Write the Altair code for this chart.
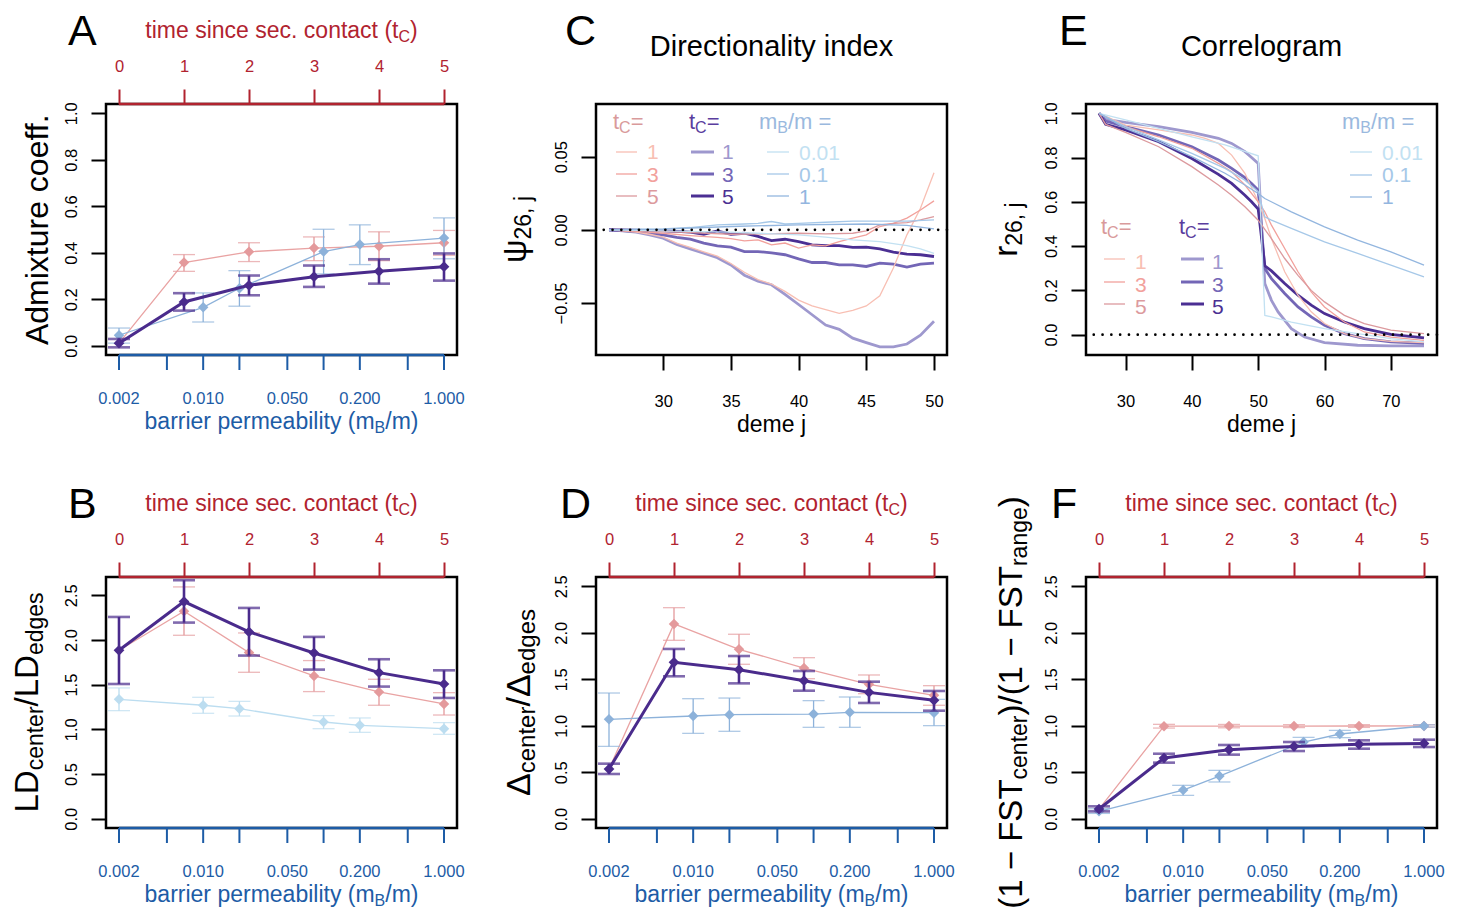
import math
import altair as alt
import pandas as pd

FONT = "Liberation Sans"
NA = float("nan")
NB = "\u00a0"

# ---------------- data ----------------
TIME = [0, 1, 2, 3, 4, 5]
PERM = [0.002, 0.01, 0.02, 0.1, 0.2, 1.0]
PERM_TICKS = [0.002, 0.005, 0.01, 0.02, 0.05, 0.1, 0.2, 0.5, 1.0]
PERM_LABELED = [0.002, 0.01, 0.05, 0.2, 1.0]

# Panel A: admixture coefficient
A_pur = [0.011, 0.188, 0.260, 0.297, 0.320, 0.340]
A_pur_lo = [-0.007, 0.151, 0.217, 0.253, 0.267, 0.280]
A_pur_hi = [0.029, 0.226, 0.302, 0.345, 0.372, 0.397]
A_pink = [0.011, 0.358, 0.404, 0.420, 0.428, 0.443]
A_pink_lo = [0.320, 0.362, 0.366, 0.366, 0.389]
A_pink_hi = [0.392, 0.443, 0.468, 0.490, 0.496]
A_blue = [0.045, 0.165, 0.247, 0.405, 0.435, 0.463]
A_blue_lo = [0.011, 0.102, 0.170, 0.309, 0.349, 0.374]
A_blue_hi = [0.076, 0.227, 0.323, 0.501, 0.520, 0.550]

# Panel B: LD ratio
B_pur = [1.884, 2.429, 2.090, 1.854, 1.634, 1.507]
B_pur_lo = [1.507, 2.194, 1.825, 1.668, 1.478, 1.351]
B_pur_hi = [2.257, 2.668, 2.358, 2.034, 1.784, 1.660]
B_pink = [1.884, 2.321, 1.858, 1.597, 1.418, 1.284]
B_pink_lo = [2.052, 1.638, 1.422, 1.269, 1.160]
B_pink_hi = [2.593, 2.078, 1.769, 1.560, 1.410]
B_blue = [1.336, 1.269, 1.231, 1.082, 1.045, 1.007]
B_blue_lo = [1.209, 1.179, 1.149, 1.007, 0.966, 0.944]
B_blue_hi = [1.463, 1.358, 1.313, 1.153, 1.127, 1.075]

# Panel D: Delta ratio
D_pur = [0.534, 1.682, 1.603, 1.485, 1.359, 1.273]
D_pur_lo = [0.481, 1.532, 1.456, 1.377, 1.245, 1.162]
D_pur_hi = [0.592, 1.826, 1.750, 1.589, 1.474, 1.374]
D_pink = [0.534, 2.095, 1.822, 1.621, 1.445, 1.327]
D_pink_lo = [1.919, 1.661, 1.506, 1.345, 1.220]
D_pink_hi = [2.270, 1.984, 1.732, 1.546, 1.431]
D_blue = [1.069, 1.105, 1.119, 1.126, 1.144, 1.141]
D_blue_lo = [0.778, 0.918, 0.940, 0.983, 0.983, 1.001]
D_blue_hi = [1.352, 1.291, 1.298, 1.270, 1.309, 1.284]

# Panel F: FST ratio
F_pur = [0.104, 0.653, 0.742, 0.778, 0.800, 0.810]
F_pur_lo = [0.079, 0.603, 0.689, 0.728, 0.753, 0.771]
F_pur_hi = [0.133, 0.699, 0.793, 0.825, 0.843, 0.850]
F_pink = [0.104, 0.995, 0.996, 0.996, 0.997, 0.998]
F_pink_lo = [0.975, 0.978, 0.980, 0.982, 0.985]
F_pink_hi = [1.015, 1.014, 1.012, 1.012, 1.011]
F_blue = [0.079, 0.308, 0.459, 0.825, 0.911, 0.997]
F_blue_lo = [0.057, 0.251, 0.395, 0.771, 0.872, 0.985]
F_blue_hi = [0.107, 0.359, 0.520, 0.875, 0.950, 1.010]

# Panel C: directionality index psi_{26,j}
C_demes = [26, 27, 28, 29, 30, 31, 32, 33, 34, 35, 36, 37, 38, 39, 40, 41, 42, 43, 44, 45, 46, 47, 48, 49, 50]
C_pur1 = [0, -0.0007, -0.0016, -0.0034, -0.0057, -0.010, -0.013, -0.016, -0.019, -0.024, -0.031, -0.035, -0.0375,
          -0.044, -0.051, -0.058, -0.065, -0.068, -0.074, -0.077, -0.080, -0.080, -0.078, -0.072, -0.0625]
C_pur3 = [0, -0.0005, -0.0011, -0.0023, -0.0034, -0.0052, -0.0064, -0.009, -0.011, -0.0118, -0.0148, -0.0148,
          -0.0157, -0.017, -0.0198, -0.0223, -0.0223, -0.0239, -0.0239, -0.025, -0.0227, -0.0234, -0.0255, -0.0234, -0.0227]
C_pur5 = [0, 0, -0.0002, -0.0005, -0.0007, -0.0011, -0.0016, -0.003, -0.0007, -0.003, -0.0023, -0.0045, -0.0073,
          -0.0064, -0.008, -0.0102, -0.0107, -0.0107, -0.012, -0.0118, -0.013, -0.0152, -0.0166, -0.017, -0.0182]
C_pink1 = [0, -0.0007, -0.0016, -0.003, -0.005, -0.009, -0.012, -0.015, -0.018, -0.023, -0.029, -0.034, -0.037,
           -0.042, -0.048, -0.052, -0.0545, -0.057, -0.055, -0.052, -0.045, -0.026, -0.0034, 0.0148, 0.039]
C_pink3_d = [26, 28, 30, 32, 34, 35, 36, 37, 38, 39, 40, 41, 42, 43, 44, 45, 46, 47, 48, 49, 50]
C_pink3 = [0, -0.001, -0.0023, -0.0039, -0.0052, -0.006, -0.0075, -0.0068, -0.0102, -0.009, -0.0125, -0.0102,
           -0.011, -0.008, -0.0057, -0.0034, 0.0023, 0.0045, 0.008, 0.0136, 0.0198]
C_pink5_d = [26, 30, 35, 40, 42, 44, 45, 46, 47, 48, 49, 50]
C_pink5 = [0, -0.001, -0.003, -0.0023, -0.0027, -0.0023, -0.0007, 0.0034, 0.0045, 0.005, 0.0068, 0.009]
C_b001_d = [26, 30, 35, 40, 42, 44, 46, 48, 49, 50]
C_b001 = [0, -0.0007, -0.0016, -0.0034, -0.005, -0.0068, -0.008, -0.0107, -0.013, -0.016]
C_b01_d = [26, 28, 30, 32, 34, 36, 37, 38, 39, 40, 42, 44, 46, 48, 50]
C_b01 = [0, 0.0005, 0.0007, 0.0016, 0.0034, 0.004, 0.0045, 0.0057, 0.004, 0.0045, 0.0052, 0.006, 0.006, 0.006, 0.0068]
C_b1_d = [26, 30, 35, 40, 45, 48, 50]
C_b1 = [0, 0.0005, 0.0023, 0.0034, 0.004, 0.003, 0.0007]

# Panel E: correlogram r_{26,j}
E_pur1_d = [26, 27, 30, 35, 40, 44, 46, 48, 49, 50, 51, 52, 53, 55, 57, 60, 65, 70, 75]
E_pur1 = [1.0, 0.973, 0.959, 0.94, 0.914, 0.887, 0.864, 0.827, 0.80, 0.774, 0.231, 0.155, 0.103, 0.027, -0.011,
          -0.036, -0.048, -0.051, -0.051]
E_pur35_d = [26, 27, 30, 35, 40, 44, 46, 48, 49, 50, 51, 52, 54, 56, 58, 60, 63, 66, 70, 75]
E_pur3 = [1.0, 0.965, 0.94, 0.902, 0.849, 0.789, 0.751, 0.709, 0.683, 0.653, 0.299, 0.253, 0.186, 0.125, 0.08,
          0.042, 0.0045, -0.018, -0.033, -0.039]
E_pur5 = [1.0, 0.95, 0.925, 0.872, 0.796, 0.724, 0.683, 0.63, 0.60, 0.567, 0.311, 0.288, 0.231, 0.178, 0.133,
          0.095, 0.057, 0.027, 0.0015, -0.015]
E_pink1_d = [26, 30, 35, 40, 42, 44, 46, 48, 50, 51, 52, 53, 54, 56, 58, 60, 63, 66, 70, 75]
E_pink1 = [1.0, 0.947, 0.925, 0.902, 0.887, 0.864, 0.811, 0.729, 0.60, 0.525, 0.434, 0.359, 0.284, 0.178, 0.103,
           0.05, 0.0045, -0.018, -0.030, -0.036]
E_pink3_d = [26, 30, 35, 40, 44, 46, 48, 50, 51, 52, 54, 56, 58, 60, 63, 66, 70, 75]
E_pink3 = [1.0, 0.94, 0.894, 0.842, 0.774, 0.736, 0.676, 0.60, 0.555, 0.495, 0.389, 0.284, 0.193, 0.125, 0.057,
           0.012, -0.011, -0.026]
E_pink5_d = [26, 27, 30, 35, 40, 44, 46, 48, 50, 52, 54, 56, 58, 60, 63, 66, 70, 75]
E_pink5 = [1.0, 0.95, 0.914, 0.849, 0.759, 0.676, 0.63, 0.578, 0.517, 0.434, 0.344, 0.268, 0.2, 0.148, 0.087,
           0.05, 0.02, 0.0045]
E_b001_d = [26, 30, 35, 40, 45, 50, 51, 52, 55, 60, 65, 70, 75]
E_b001 = [1.0, 0.97, 0.932, 0.894, 0.857, 0.808, 0.087, 0.08, 0.057, 0.027, 0.0045, -0.018, -0.033]
E_b01_d = [26, 30, 35, 40, 45, 48, 50, 51, 52, 55, 60, 65, 70, 75]
E_b01 = [1.0, 0.94, 0.88, 0.819, 0.751, 0.698, 0.646, 0.532, 0.517, 0.48, 0.419, 0.367, 0.314, 0.261]
E_b1_d = [26, 30, 35, 40, 45, 48, 50, 51, 55, 60, 65, 70, 75]
E_b1 = [1.0, 0.932, 0.872, 0.804, 0.729, 0.676, 0.638, 0.615, 0.555, 0.487, 0.427, 0.374, 0.314]

# ---------------- styling ----------------
W, H = 351, 251
RED = "#B1232F"
BLUE = "#1D5CA6"
PINK_PT = "#E49A9C"
PINK_LN = "#E9A3A3"
PURPLE = "#4A2B8C"
BLUE_PT = "#8DB2DA"
BLUE_LIGHT = "#BCDDF0"

P1, P3, P5 = "#F8BFB3", "#F2A19C", "#DC9A9E"
U1, U3, U5 = "#9E98CE", "#7366B6", "#4B2F93"
L001, L01, L1 = "#C2E1F2", "#A6C8E8", "#93B6DF"

ONE = pd.DataFrame({"k": [0]})

AW = {' ': 278, NB: 278, '(': 333, ')': 333, ',': 278, '-': 333, '.': 278, '/': 278, '=': 584, '\u2212': 584,
      'A': 667, 'B': 667, 'C': 722, 'D': 722, 'E': 667, 'F': 611, 'L': 556, 'S': 667, 'T': 611,
      'a': 556, 'b': 556, 'c': 500, 'd': 556, 'e': 556, 'f': 278, 'g': 556, 'h': 556, 'i': 222, 'j': 222,
      'k': 500, 'l': 222, 'm': 833, 'n': 556, 'o': 556, 'p': 556, 'q': 556, 'r': 333, 's': 500, 't': 278,
      'u': 556, 'v': 500, 'w': 722, 'x': 500, 'y': 500, 'z': 500, '\u03c8': 712, '\u0394': 668}


def tw(s, size):
    return sum(AW.get(ch, 556) for ch in s) * size / 1000.0


def txt(text, x, y, size, color="black", angle=0, align="left", baseline="alphabetic", dx=0, dy=0):
    kw = dict(text=text, font=FONT, fontSize=size, color=color, align=align, baseline=baseline, dx=dx, dy=dy)
    if angle:
        kw["angle"] = angle
    return alt.Chart(ONE).mark_text(**kw).encode(x=alt.value(x), y=alt.value(y))


def rich(segs, x, y, color="black", angle=0, anchor="middle"):
    widths = [tw(t, s) for t, s, d in segs]
    off = -sum(widths) / 2.0 if anchor == "middle" else 0.0
    out = []
    for (t, s, d), w in zip(segs, widths):
        out.append(txt(t, x, y, s, color=color, angle=angle, dx=off, dy=d))
        off += w
    return out


TIME_DOM = [TIME[0] - 0.04 * (TIME[-1] - TIME[0]), TIME[-1] + 0.04 * (TIME[-1] - TIME[0])]
# permeability (log) mapped onto the same horizontal coordinate as time (0.002 <-> 0, 1 <-> 5)
U_EXPR = "%g + %g * log(datum.p / %g) / log(%g)" % (
    TIME[0], TIME[-1] - TIME[0], PERM_TICKS[0], PERM_TICKS[-1] / PERM_TICKS[0])


def yscale(dom):
    return alt.Scale(domain=dom, nice=False, zero=False)


def left_axis(vals, fmt):
    return alt.Axis(orient="left", values=vals, format=fmt, tickSize=15, tickWidth=2, tickColor="black",
                    labelAngle=270, labelAlign="center", labelBaseline="bottom", labelPadding=12,
                    labelFontSize=16.5, labelColor="black", labelFont=FONT, domain=False, title=None, grid=False)


TOP_AXIS = alt.Axis(orient="top", values=TIME, format="d", tickSize=15, tickWidth=2, tickColor=RED,
                    labelColor=RED, labelFontSize=16.5, labelFont=FONT, labelPadding=15, domain=False,
                    title=None, grid=False, labelFlush=False, labelOverlap=False)


def std_panel(letter, letter_dx, pur, pur_lo, pur_hi, pink, pink_lo, pink_hi, blue, blue_lo, blue_hi,
              blue_col, ydom, yticks, ylab_segs, ylab_x):
    YA = left_axis(yticks, ".1f")

    def X(f="t"):
        return alt.X(f"{f}:Q", scale=alt.Scale(domain=TIME_DOM, nice=False, zero=False), axis=TOP_AXIS)

    def Y(f):
        return alt.Y(f"{f}:Q", scale=yscale(ydom), axis=YA)

    def series(df, color, lw, ew, size, line_color=None, marker_filter=None):
        base = alt.Chart(df)
        if "p" in df.columns:
            base = base.transform_calculate(t=U_EXPR)
        out = [base.mark_line(color=line_color or color, strokeWidth=lw).encode(x=X(), y=Y("v"))]
        mb = base.transform_filter(marker_filter) if marker_filter else base
        out.append(mb.mark_rule(color=color, strokeWidth=ew).encode(x=X(), y=Y("lo"), y2="hi:Q"))
        for f in ("lo", "hi"):
            out.append(mb.mark_tick(color=color, orient="horizontal", size=22, thickness=ew).encode(
                x=X(), y=Y(f)))
        out.append(mb.mark_point(shape="diamond", filled=True, size=size, color=color, opacity=1).encode(
            x=X(), y=Y("v")))
        return out

    dpur = pd.DataFrame({"t": TIME, "v": pur, "lo": pur_lo, "hi": pur_hi})
    dpink = pd.DataFrame({"t": TIME, "v": pink, "lo": [NA] + pink_lo, "hi": [NA] + pink_hi})
    dblue = pd.DataFrame({"p": PERM, "v": blue, "lo": blue_lo, "hi": blue_hi})
    layers = []
    layers += series(dpink, PINK_PT, 1.3, 1.3, 110, line_color=PINK_LN, marker_filter="datum.t > 0")
    layers += series(dblue, blue_col, 1.3, 1.3, 110)
    layers += series(dpur, PURPLE, 3, 2.6, 115)
    # top (red) axis line over the tC range
    layers.append(alt.Chart(pd.DataFrame({"a": [TIME[0]], "b": [TIME[-1]]})).mark_rule(
        color=RED, strokeWidth=2.5).encode(x=X("a"), x2="b:Q", y=alt.value(0)))
    # bottom (blue) permeability axis, drawn from the tick values
    ticks = alt.Chart(pd.DataFrame({"p": PERM_TICKS})).transform_calculate(t=U_EXPR)
    layers.append(ticks.transform_aggregate(a="min(t)", b="max(t)").mark_rule(
        color=BLUE, strokeWidth=2.5).encode(x=X("a"), x2="b:Q", y=alt.value(H)))
    layers.append(ticks.mark_rule(color=BLUE, strokeWidth=2).encode(
        x=X(), y=alt.value(H), y2=alt.value(H + 15)))
    labs = alt.Chart(pd.DataFrame({"p": PERM_LABELED})).transform_calculate(
        t=U_EXPR, lab="format(datum.p, '.3f')")
    layers.append(labs.mark_text(font=FONT, fontSize=16.5, color=BLUE, baseline="top").encode(
        x=X(), y=alt.value(H + 36), text="lab:N"))
    layers += rich([("time since sec. contact (t", 23, 0), ("C", 16, 4), (")", 23, 0)], W / 2, -66, color=RED)
    layers += rich([("barrier permeability (m", 23, 0), ("B", 16, 4), ("/m)", 23, 0)], W / 2, H + 74,
                   color=BLUE)
    layers += rich(ylab_segs, ylab_x, H / 2, angle=270)
    layers.append(txt(letter, letter_dx, -59, 43))
    return alt.layer(*layers).properties(width=W, height=H)


def line_panel(letter, letter_dx, title, series_list, xdom, xticks, ydom, yticks, yfmt, ylab_segs, ylab_x,
               legend_layers):
    XA = alt.Axis(orient="bottom", values=xticks, format="d", tickSize=15, tickWidth=2, tickColor="black",
                  labelColor="black", labelFontSize=16.5, labelFont=FONT, labelPadding=23, domain=False,
                  title=None, grid=False, labelFlush=False, labelOverlap=False)
    YA = left_axis(yticks, yfmt)
    xs = alt.Scale(domain=xdom, nice=False, zero=False)
    layers = []
    for demes, vals, color, lw in series_list:
        df = pd.DataFrame({"d": demes, "v": vals})
        layers.append(alt.Chart(df).mark_line(color=color, strokeWidth=lw).encode(
            x=alt.X("d:Q", scale=xs, axis=XA),
            y=alt.Y("v:Q", scale=yscale(ydom), axis=YA)))
    layers.append(alt.Chart(pd.DataFrame({"v": [0]})).mark_rule(
        color="black", strokeWidth=2.6, strokeDash=[0.1, 8.7], strokeCap="round").encode(
        y=alt.Y("v:Q", scale=yscale(ydom), axis=YA)))
    layers += legend_layers
    layers.append(txt(title, W / 2, -48, 29, align="center"))
    layers.append(txt("deme j", W / 2, H + 77, 23, align="center"))
    layers += rich(ylab_segs, ylab_x, H / 2, angle=270)
    layers.append(txt(letter, letter_dx, -59, 43))
    return alt.layer(*layers).properties(width=W, height=H)


def leg_rule(x0, x1, y, color, lw):
    return alt.Chart(ONE).mark_rule(color=color, strokeWidth=lw).encode(
        x=alt.value(x0), x2=alt.value(x1), y=alt.value(y))


def tc_legend(x_pink, x_pur, y_head, y_lines, y_text):
    out = []
    out += rich([("t", 22, 0), ("C", 16, 4), (NB + "=", 22, 0)], x_pink, y_head, color="#D99A9B", anchor="left")
    out += rich([("t", 22, 0), ("C", 16, 4), (NB + "=", 22, 0)], x_pur, y_head, color="#5A3D9E", anchor="left")
    for lab, cp, cu, yl, yt in zip(["1", "3", "5"], [P1, P3, P5], [U1, U3, U5], y_lines, y_text):
        out.append(leg_rule(x_pink + 3, x_pink + 24, yl, cp, 1.3))
        out.append(txt(lab, x_pink + 34, yt, 21, color=cp))
        out.append(leg_rule(x_pur + 2, x_pur + 25, yl, cu, 3))
        out.append(txt(lab, x_pur + 33, yt, 21, color=cu))
    return out


def mb_legend(x, y_head, y_lines, y_text, line_dx, text_dx):
    out = rich([("m", 22, 0), ("B", 16, 4), ("/m" + NB + "=", 22, 0)], x, y_head, color="#9AB9DE", anchor="left")
    for lab, c, yl, yt in zip(["0.01", "0.1", "1"], [L001, L01, L1], y_lines, y_text):
        out.append(leg_rule(x + line_dx, x + line_dx + 22, yl, c, 1.3))
        out.append(txt(lab, x + text_dx, yt, 21, color=c))
    return out


# ---------------- panels ----------------
panelA = std_panel("A", -38, A_pur, A_pur_lo, A_pur_hi, A_pink, A_pink_lo, A_pink_hi, A_blue, A_blue_lo,
                   A_blue_hi, BLUE_PT, [-0.04, 1.04], [0, 0.2, 0.4, 0.6, 0.8, 1.0],
                   [("Admixture coeff.", 32, 0)], -58)
panelB = std_panel("B", -38, B_pur, B_pur_lo, B_pur_hi, B_pink, B_pink_lo, B_pink_hi, B_blue, B_blue_lo,
                   B_blue_hi, BLUE_LIGHT, [-0.104, 2.704], [0, 0.5, 1.0, 1.5, 2.0, 2.5],
                   [("LD", 33, 0), ("center", 23, 5), ("/LD", 33, 0), ("edges", 23, 5)], -68)
panelD = std_panel("D", -36, D_pur, D_pur_lo, D_pur_hi, D_pink, D_pink_lo, D_pink_hi, D_blue, D_blue_lo,
                   D_blue_hi, BLUE_PT, [-0.1, 2.6], [0, 0.5, 1.0, 1.5, 2.0, 2.5],
                   [("\u0394", 34, 0), ("center", 24, 5), ("/\u0394", 34, 0), ("edges", 24, 5)], -66)
panelF = std_panel("F", -35, F_pur, F_pur_lo, F_pur_hi, F_pink, F_pink_lo, F_pink_hi, F_blue, F_blue_lo,
                   F_blue_hi, BLUE_PT, [-0.1, 2.6], [0, 0.5, 1.0, 1.5, 2.0, 2.5],
                   [("(1 \u2212 FST", 33, 0), ("center", 23, 5), (")/(1 \u2212 FST", 33, 0), ("range", 23, 5),
                    (")", 33, 0)], -64)

C_series = [
    (C_demes, C_pur1, U1, 2.8), (C_demes, C_pur3, U3, 2.8), (C_demes, C_pur5, U5, 2.8),
    (C_demes, C_pink1, P1, 1.3), (C_pink3_d, C_pink3, P3, 1.3), (C_pink5_d, C_pink5, P5, 1.3),
    (C_b001_d, C_b001, L001, 1.3), (C_b01_d, C_b01, L01, 1.3), (C_b1_d, C_b1, L1, 1.3),
]
C_leg = tc_legend(17, 93, 25, [48, 70, 92], [55, 78, 100]) + mb_legend(163, 25, [48, 70, 92], [56, 78, 100], 8, 40)
panelC = line_panel("C", -31, "Directionality index", C_series, [25.04, 50.96], [30, 35, 40, 45, 50],
                    [-0.0855, 0.086], [-0.05, 0.0, 0.05], ".2f",
                    [("\u03c8", 33, 0), ("26, j", 23, 5)], -70, C_leg)

E_series = [
    (E_pur1_d, E_pur1, U1, 2.8), (E_pur35_d, E_pur3, U3, 2.8), (E_pur35_d, E_pur5, U5, 2.8),
    (E_pink1_d, E_pink1, P1, 1.3), (E_pink3_d, E_pink3, P3, 1.3), (E_pink5_d, E_pink5, P5, 1.3),
    (E_b001_d, E_b001, L001, 1.3), (E_b01_d, E_b01, L01, 1.3), (E_b1_d, E_b1, L1, 1.3),
]
E_leg = mb_legend(256, 25, [48, 71, 93], [56, 78, 100], 8, 40) + tc_legend(15, 93, 130, [155, 178, 200],
                                                                         [165, 188, 210])
panelE = line_panel("E", -27, "Correlogram", E_series, [24.04, 76.96], [30, 40, 50, 60, 70],
                    [-0.092, 1.042], [0, 0.2, 0.4, 0.6, 0.8, 1.0], ".1f",
                    [("r", 33, 0), ("26, j", 23, 5)], -69, E_leg)

chart = alt.concat(panelA, panelC, panelE, panelB, panelD, panelF, columns=3,
                   spacing={"row": 222, "column": 139}, bounds="flush").configure_view(
    stroke="black", strokeWidth=2.5).configure_axis(grid=False).properties(
    padding={"left": 2, "top": 1, "right": 5, "bottom": 0}, background="white")

chart.save("out.html", embed_options={"renderer": "svg", "actions": False})
